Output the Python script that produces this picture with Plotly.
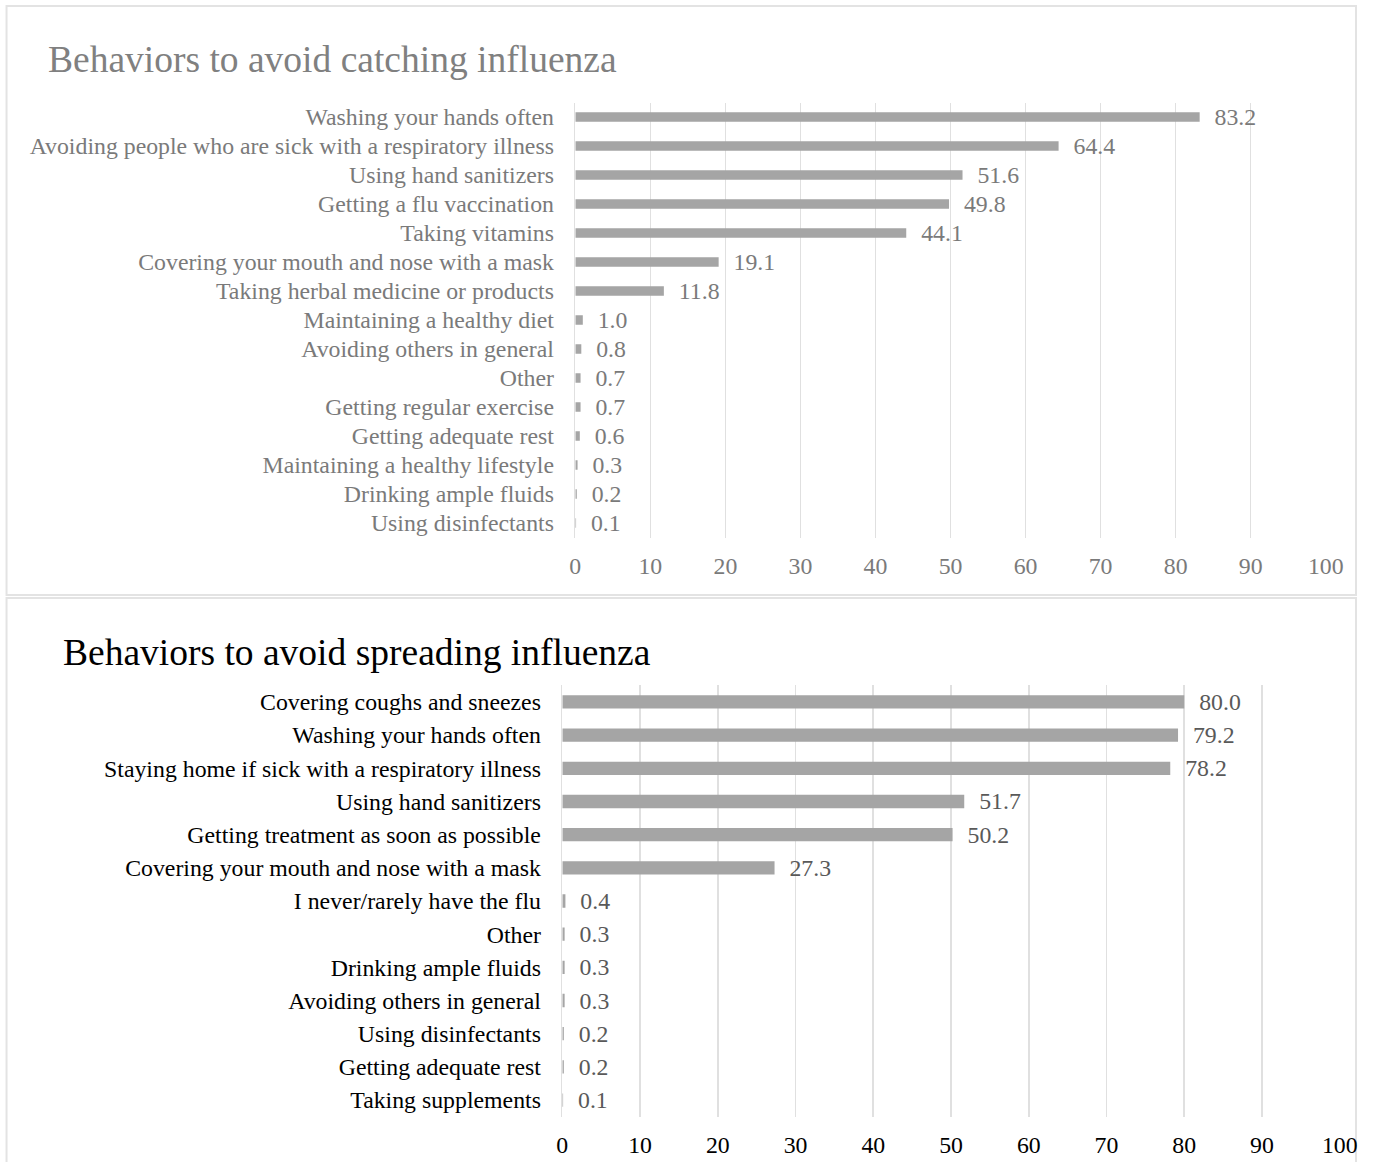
import plotly.graph_objects as go

# ---- Data ----
catch_labels = [
    "Washing your hands often",
    "Avoiding people who are sick with a respiratory illness",
    "Using hand sanitizers",
    "Getting a flu vaccination",
    "Taking vitamins",
    "Covering your mouth and nose with a mask",
    "Taking herbal medicine or products",
    "Maintaining a healthy diet",
    "Avoiding others in general",
    "Other",
    "Getting regular exercise",
    "Getting adequate rest",
    "Maintaining a healthy lifestyle",
    "Drinking ample fluids",
    "Using disinfectants",
]
catch_values = [83.2, 64.4, 51.6, 49.8, 44.1, 19.1, 11.8, 1.0, 0.8, 0.7, 0.7, 0.6, 0.3, 0.2, 0.1]

spread_labels = [
    "Covering coughs and sneezes",
    "Washing your hands often",
    "Staying home if sick with a respiratory illness",
    "Using hand sanitizers",
    "Getting treatment as soon as possible",
    "Covering your mouth and nose with a mask",
    "I never/rarely have the flu",
    "Other",
    "Drinking ample fluids",
    "Avoiding others in general",
    "Using disinfectants",
    "Getting adequate rest",
    "Taking supplements",
]
spread_values = [80.0, 79.2, 78.2, 51.7, 50.2, 27.3, 0.4, 0.3, 0.3, 0.3, 0.2, 0.2, 0.1]

x_ticks = [0, 10, 20, 30, 40, 50, 60, 70, 80, 90, 100]

W, H = 1375, 1162
FONT = "Liberation Serif, Times New Roman, serif"
BAR = "#a5a5a5"
GRID = "#e0e0e0"
GRAY_TXT = "#7a7a7a"
LBL_TXT = "#595959"
FS = 23.8


def px_x(p):
    # horizontal target pixel -> paper fraction (compensates the observed capture mapping)
    f = ((p - 6.0) / 0.982) / W
    return max(0.0004, min(f, 1374.0 / W))


def px_y(p):
    return 1 - p / H


fig = go.Figure()

fig.add_trace(go.Bar(
    x=catch_values, y=catch_labels, orientation="h", width=0.32,
    marker=dict(color=BAR, line=dict(width=0)),
    texttemplate="\u2002%{x:.1f}", textposition="outside", constraintext="none",
    textfont=dict(family=FONT, size=FS, color=GRAY_TXT),
    cliponaxis=False, xaxis="x", yaxis="y", showlegend=False,
))
fig.add_trace(go.Bar(
    x=spread_values, y=spread_labels, orientation="h", width=0.4,
    marker=dict(color=BAR, line=dict(width=0)),
    texttemplate="\u2002%{x:.1f}", textposition="outside", constraintext="none",
    textfont=dict(family=FONT, size=FS, color=LBL_TXT),
    cliponaxis=False, xaxis="x2", yaxis="y2", showlegend=False,
))

fig.update_layout(
    width=W, height=H, autosize=False,
    margin=dict(l=0, r=0, t=0, b=0),
    paper_bgcolor="white", plot_bgcolor="white",
    font=dict(family=FONT),
    xaxis=dict(domain=[px_x(575), px_x(1325)], range=[0, 100], tickvals=x_ticks,
               showgrid=True, gridcolor=GRID, gridwidth=1.6, zeroline=False,
               showline=False, anchor="y",
               tickfont=dict(family=FONT, size=FS, color=GRAY_TXT),
               ticks="outside", ticklen=7, tickcolor="rgba(0,0,0,0)"),
    yaxis=dict(domain=[px_y(537.5), px_y(102.5)], range=[14.5, -0.5],
               type="category", tickmode="array", tickvals=catch_labels, ticktext=catch_labels,
               showgrid=False, zeroline=False, anchor="x",
               showline=True, linecolor=GRID, linewidth=1.6,
               tickfont=dict(family=FONT, size=FS, color=GRAY_TXT),
               ticks="outside", ticklen=15, tickcolor="rgba(0,0,0,0)"),
    xaxis2=dict(domain=[px_x(562), px_x(1339)], range=[0, 100], tickvals=x_ticks,
                showgrid=True, gridcolor=GRID, gridwidth=1.6, zeroline=False,
                showline=False, anchor="y2",
                tickfont=dict(family=FONT, size=FS, color="#000000"),
                ticks="outside", ticklen=7, tickcolor="rgba(0,0,0,0)"),
    yaxis2=dict(domain=[px_y(1116.6), px_y(685.4)], range=[12.5, -0.5],
                type="category", tickmode="array", tickvals=spread_labels, ticktext=spread_labels,
                showgrid=False, zeroline=False, anchor="x2",
                showline=True, linecolor=GRID, linewidth=1.6,
                tickfont=dict(family=FONT, size=FS, color="#000000"),
                ticks="outside", ticklen=15, tickcolor="rgba(0,0,0,0)"),
    shapes=[
        dict(type="rect", xref="paper", yref="paper",
             x0=px_x(6), x1=px_x(1372), y0=px_y(595), y1=px_y(6),
             line=dict(color="#e3e3e3", width=2), fillcolor="rgba(0,0,0,0)", layer="below"),
        dict(type="rect", xref="paper", yref="paper",
             x0=px_x(6), x1=px_x(1372), y0=px_y(1175), y1=px_y(598),
             line=dict(color="#e3e3e3", width=2), fillcolor="rgba(0,0,0,0)", layer="below"),
    ],
    annotations=[
        dict(text="Behaviors to avoid catching influenza", xref="paper", yref="paper",
             x=px_x(46), y=px_y(60), xanchor="left", yanchor="middle", showarrow=False,
             font=dict(family=FONT, size=37.5, color="#808080")),
        dict(text="Behaviors to avoid spreading influenza", xref="paper", yref="paper",
             x=px_x(61), y=px_y(652), xanchor="left", yanchor="middle", showarrow=False,
             font=dict(family=FONT, size=37.5, color="#000000")),
    ],
)

fig.write_html(
    "out.html",
    config={"responsive": False, "displayModeBar": False, "staticPlot": True},
    post_script="document.body.style.margin='0';document.body.style.overflow='hidden';",
)
